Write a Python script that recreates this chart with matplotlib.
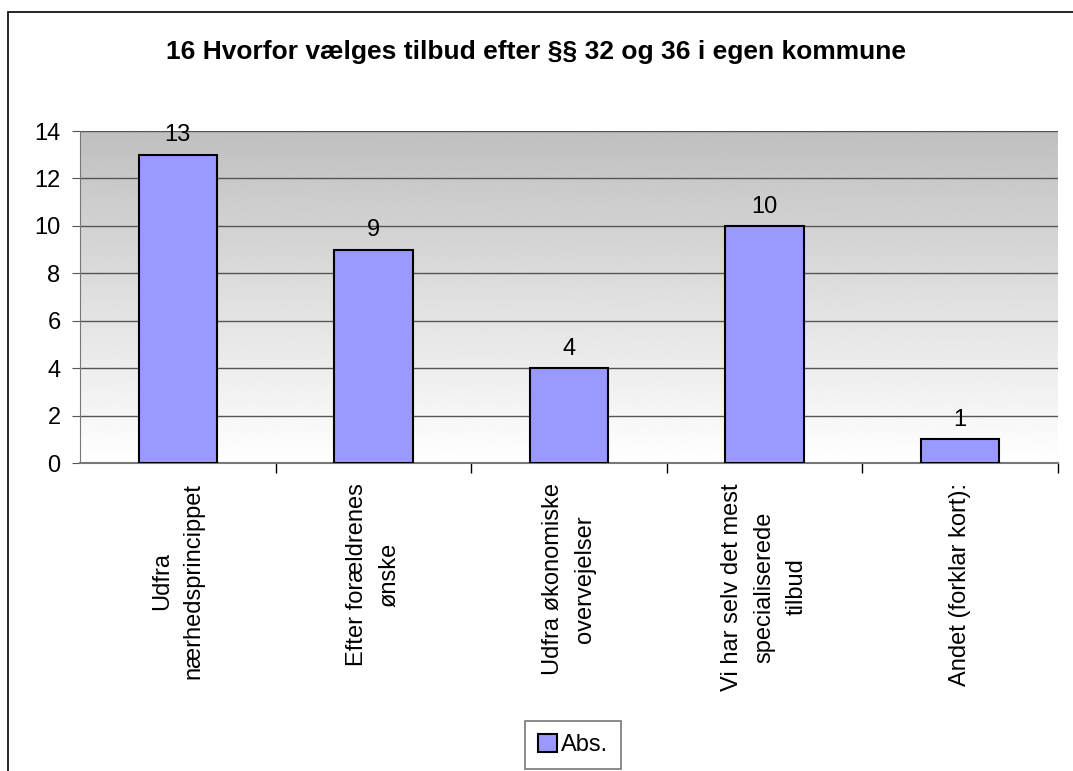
import numpy as np
import matplotlib.pyplot as plt
from matplotlib.patches import Rectangle

# data
categories = ["Udfra\nnærhedsprincippet", "Efter forældrenes\nønske",
              "Udfra økonomiske\novervejelser",
              "Vi har selv det mest\nspecialiserede\ntilbud",
              "Andet (forklar kort):"]
values = [13, 9, 4, 10, 1]
title = "16 Hvorfor vælges tilbud efter §§ 32 og 36 i egen kommune"
series_name = "Abs."

plt.rcParams['font.family'] = ['Liberation Sans', 'DejaVu Sans']
fs = 17

fig = plt.figure(figsize=(10.73, 7.71), dpi=100)
# outer chart frame (extends past right/bottom edge like the original)
fig.patches.append(Rectangle((8 / 1073, -0.05), 1.1, 1 - 12 / 771 + 0.05,
                             transform=fig.transFigure, fill=False,
                             edgecolor='black', linewidth=1.2))

ax = fig.add_axes([80 / 1073, 1 - 463 / 771, (1058 - 80) / 1073, (463 - 131) / 771])

x = np.arange(len(values))
ax.set_xlim(-0.5, len(values) - 0.5)

# gradient background: grey at top -> white at bottom
grad = np.linspace(0.75, 1.0, 256).reshape(-1, 1)
ax.imshow(grad, extent=[-0.5, len(values) - 0.5, 0, 14], aspect='auto',
          cmap='gray', vmin=0, vmax=1, zorder=0, origin='upper')
ax.set_ylim(0, 14)

ax.set_yticks(range(0, 15, 2))
ax.yaxis.grid(True, color='#555555', linewidth=1)
ax.set_axisbelow(True)
for gl in ax.get_ygridlines():
    gl.set_zorder(1)

bars = ax.bar(x, values, width=0.4, color='#9999FF', edgecolor='black',
              linewidth=1.5, zorder=3, label=series_name)
for xi, v in zip(x, values):
    ax.text(xi, v + 0.35, str(v), ha='center', va='bottom', fontsize=fs)

# ticks between categories on x-axis
ax.set_xticks(np.arange(0.5, len(values) - 0.5 + 0.01, 1))
ax.set_xticklabels([])
ax.tick_params(axis='x', length=7, color='black', width=1)
ax.tick_params(axis='y', length=6, color='#555555', labelsize=fs, pad=8)

for xi, lab in zip(x, categories):
    ax.text(xi, -0.85, lab, rotation=90, ha='center', va='top',
            multialignment='center', fontsize=fs, linespacing=1.6,
            transform=ax.transData, clip_on=False)

for s in ['top', 'right']:
    ax.spines[s].set_visible(False)
ax.spines['left'].set_color('#777777')
ax.spines['bottom'].set_color('#777777')
ax.spines['bottom'].set_linewidth(1.5)

fig.text(0.5, 1 - 52 / 771, title, ha='center', va='center',
         fontsize=19, fontweight='bold')

leg = fig.legend(handles=[bars], labels=[series_name], loc='center',
                 bbox_to_anchor=(573 / 1073, 1 - 745 / 771), fontsize=fs,
                 frameon=True, fancybox=False, handlelength=0.8,
                 handleheight=0.8, handletextpad=0.2, borderpad=0.55)
leg.get_frame().set_edgecolor('#555555')
leg.get_frame().set_linewidth(1.2)

fig.savefig("out.png", dpi=100)
